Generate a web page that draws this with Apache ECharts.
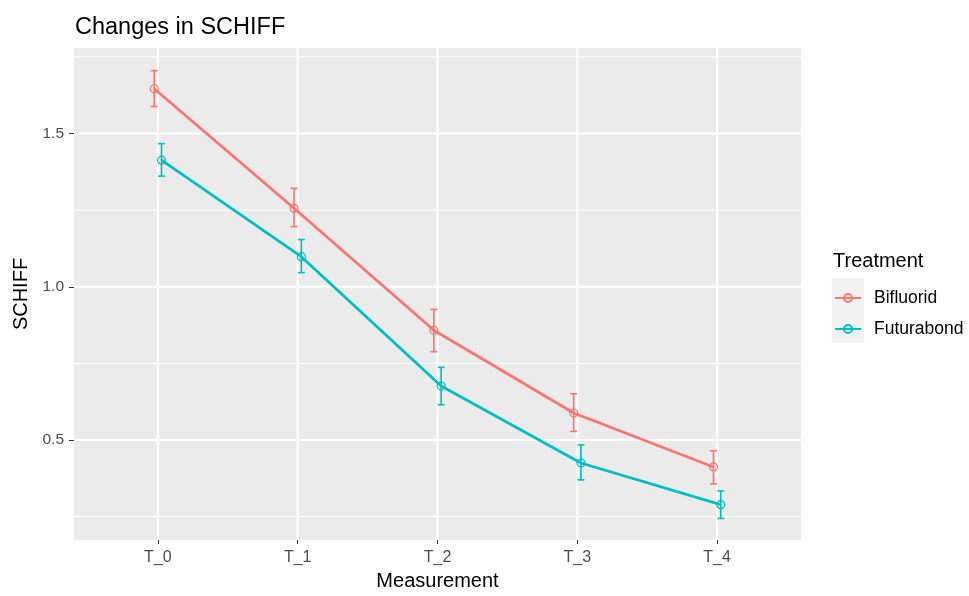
<!DOCTYPE html>
<html>
<head>
<meta charset="utf-8">
<script src="https://cdn.jsdelivr.net/npm/echarts@6/dist/echarts.min.js"></script>
<style>
html, body { margin: 0; padding: 0; background: #fff; }
#main { width: 969px; height: 596px; }
</style>
</head>
<body>
<div id="main"></div>
<script>
// data
var measurements = ['T_0', 'T_1', 'T_2', 'T_3', 'T_4'];
var bifluoridMean = [1.646, 1.256, 0.858, 0.588, 0.412];
var bifluoridLow  = [1.588, 1.196, 0.788, 0.528, 0.357];
var bifluoridHigh = [1.705, 1.321, 0.926, 0.651, 0.465];
var futurabondMean = [1.413, 1.098, 0.676, 0.425, 0.289];
var futurabondLow  = [1.361, 1.046, 0.615, 0.370, 0.244];
var futurabondHigh = [1.467, 1.154, 0.737, 0.484, 0.334];
var yTicks = [0.5, 1.0, 1.5];
var yGrid = [0.25, 0.5, 0.75, 1.0, 1.25, 1.5, 1.75];

var red = '#F8766D', cyan = '#00BFC4';
var font = 'Liberation Sans';
var dodge = 0.026;
var xIdx = measurements.map(function (m, i) { return i; });

function points(mean, off) {
    return mean.map(function (v, i) { return [i + off, v]; });
}
function bars(lo, hi, off) {
    return lo.map(function (v, i) { return [i + off, v, hi[i]]; });
}

function errRender(color) {
    return function (params, api) {
        var x = api.value(0);
        var p1 = api.coord([x, api.value(1)]);
        var p2 = api.coord([x, api.value(2)]);
        var w = 3.5;
        var st = { stroke: color, lineWidth: 1.6 };
        return {
            type: 'group',
            children: [
                { type: 'line', shape: { x1: p1[0], y1: p1[1], x2: p2[0], y2: p2[1] }, style: st },
                { type: 'line', shape: { x1: p1[0] - w, y1: p1[1], x2: p1[0] + w, y2: p1[1] }, style: st },
                { type: 'line', shape: { x1: p2[0] - w, y1: p2[1], x2: p2[0] + w, y2: p2[1] }, style: st }
            ]
        };
    };
}

var chart = echarts.init(document.getElementById('main'));
var option = {
    animation: false,
    title: [
        { text: 'Changes in SCHIFF', left: 70, top: 11,
          textStyle: { fontFamily: font, fontSize: 23.5, fontWeight: 'normal', color: '#000' } },
        { text: 'Treatment', left: 828, top: 246,
          textStyle: { fontFamily: font, fontSize: 20, fontWeight: 'normal', color: '#000' } }
    ],
    grid: {
        left: 74, top: 48, width: 727, height: 494.5,
        show: true, backgroundColor: '#EBEBEB', borderWidth: 0
    },
    legend: {
        orient: 'vertical', left: 834, top: 289, padding: 0,
        itemWidth: 26, itemHeight: 10, itemGap: 13,
        data: ['Bifluorid', 'Futurabond'],
        textStyle: { fontFamily: font, fontSize: 17.5, color: '#000', padding: [0, 0, 0, 8] }
    },
    graphic: [
        { type: 'rect', left: 832, top: 278, shape: { width: 32, height: 65 },
          style: { fill: '#F2F2F2' }, z: -1 }
    ],
    xAxis: {
        type: 'value', min: -0.6, max: 4.6,
        name: 'Measurement', nameLocation: 'middle', nameGap: 31,
        nameTextStyle: { fontFamily: font, fontSize: 20, color: '#000' },
        axisLine: { show: false, onZero: false },
        splitLine: { show: false },
        axisTick: { show: true, customValues: xIdx, length: 4, lineStyle: { color: '#333', width: 1 } },
        axisLabel: {
            customValues: xIdx, margin: 10,
            fontFamily: font, fontSize: 16, color: '#4D4D4D',
            formatter: function (v) { return measurements[Math.round(v)]; }
        }
    },
    yAxis: {
        type: 'value', min: 0.1737, max: 1.779,
        name: 'SCHIFF', nameLocation: 'middle', nameGap: 38, nameRotate: 90,
        nameTextStyle: { fontFamily: font, fontSize: 20, color: '#000' },
        axisLine: { show: false, onZero: false },
        splitLine: { show: false },
        axisTick: { show: true, customValues: yTicks, length: 5, lineStyle: { color: '#333', width: 1 } },
        axisLabel: {
            customValues: yTicks, margin: 10,
            fontFamily: font, fontSize: 15.5, color: '#4D4D4D',
            formatter: function (v) { return v.toFixed(1); }
        }
    },
    series: [
        {
            name: 'grid-y', type: 'custom', silent: true, z: 0,
            data: yGrid,
            encode: { y: 0 },
            renderItem: function (params, api) {
                var v = api.value(0);
                var cs = params.coordSys;
                var y = api.coord([0, v])[1];
                var major = yTicks.indexOf(v) >= 0;
                return { type: 'line', shape: { x1: cs.x, y1: y, x2: cs.x + cs.width, y2: y },
                         style: { stroke: '#fff', lineWidth: major ? 2 : 1 } };
            }
        },
        {
            name: 'grid-x', type: 'custom', silent: true, z: 0,
            data: xIdx,
            encode: { x: 0 },
            renderItem: function (params, api) {
                var cs = params.coordSys;
                var x = api.coord([api.value(0), 1])[0];
                return { type: 'line', shape: { x1: x, y1: cs.y, x2: x, y2: cs.y + cs.height },
                         style: { stroke: '#fff', lineWidth: 2 } };
            }
        },
        {
            name: 'Bifluorid SE', type: 'custom', z: 2,
            data: bars(bifluoridLow, bifluoridHigh, -dodge),
            encode: { x: 0, y: [1, 2] },
            renderItem: errRender(red)
        },
        {
            name: 'Futurabond SE', type: 'custom', z: 2,
            data: bars(futurabondLow, futurabondHigh, dodge),
            encode: { x: 0, y: [1, 2] },
            renderItem: errRender(cyan)
        },
        {
            name: 'Bifluorid', type: 'line', z: 3,
            data: points(bifluoridMean, -dodge),
            symbol: 'circle', symbolSize: 8,
            lineStyle: { color: red, width: 2.8 },
            itemStyle: { color: 'rgba(0,0,0,0)', borderColor: red, borderWidth: 1.2 }
        },
        {
            name: 'Futurabond', type: 'line', z: 3,
            data: points(futurabondMean, dodge),
            symbol: 'circle', symbolSize: 8,
            lineStyle: { color: cyan, width: 2.8 },
            itemStyle: { color: 'rgba(0,0,0,0)', borderColor: cyan, borderWidth: 1.2 }
        }
    ]
};
chart.setOption(option);
</script>
</body>
</html>
